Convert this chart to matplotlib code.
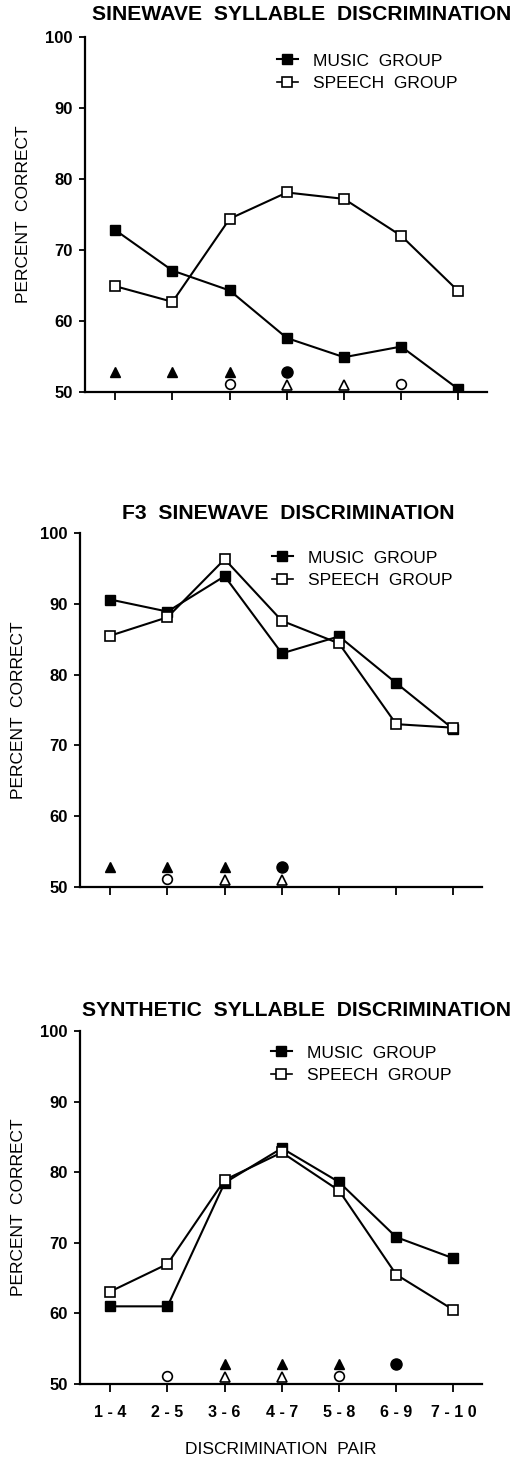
import matplotlib
matplotlib.use("Agg")
import matplotlib.pyplot as plt
from matplotlib.lines import Line2D

plt.rcParams['font.family'] = ['Liberation Sans', 'DejaVu Sans']

pairs = ["1 - 4", "2 - 5", "3 - 6", "4 - 7", "5 - 8", "6 - 9", "7 - 1 0"]
xpos = [1, 2, 3, 4, 5, 6, 7]

# Panel 1: sinewave syllable discrimination
sine_music = [72.8, 67.1, 64.3, 57.6, 54.9, 56.4, 50.4]
sine_speech = [64.9, 62.7, 74.4, 78.1, 77.2, 72.0, 64.2]
# Panel 2: F3 sinewave discrimination
f3_music = [90.6, 88.9, 93.9, 83.0, 85.4, 78.8, 72.3]
f3_speech = [85.5, 88.1, 96.3, 87.6, 84.4, 73.0, 72.5]
# Panel 3: synthetic syllable discrimination
syn_music = [61.0, 61.0, 78.5, 83.4, 78.6, 70.8, 67.8]
syn_speech = [63.1, 67.0, 78.9, 82.8, 77.4, 65.5, 60.5]

# significance symbols (pair positions)
sine_filled_tri = [1, 2, 3]
sine_filled_circ = [4]
sine_open_circ = [3, 6]
sine_open_tri = [4, 5]

f3_filled_tri = [1, 2, 3]
f3_filled_circ = [4]
f3_open_circ = [2]
f3_open_tri = [3, 4]

syn_filled_tri = [3, 4, 5]
syn_filled_circ = [6]
syn_open_circ = [2, 5]
syn_open_tri = [3, 4]

titles = ["SINEWAVE  SYLLABLE  DISCRIMINATION",
          "F3  SINEWAVE  DISCRIMINATION",
          "SYNTHETIC  SYLLABLE  DISCRIMINATION"]

W, H = 532, 1457
fig = plt.figure(figsize=(W / 100, H / 100), dpi=100)

# axes rects in pixels: left, right, top, bottom
rects = [(85, 487, 37, 392), (80, 482, 533, 887), (80, 482, 1031, 1384)]
title_y = [15, 513, 1010]
title_x = [302, 288, 296]
leg_anchor = [(287, 61), (282, 558), (281, 1053)]

panels = [
    (sine_music, sine_speech, sine_filled_tri, sine_filled_circ, sine_open_circ, sine_open_tri),
    (f3_music, f3_speech, f3_filled_tri, f3_filled_circ, f3_open_circ, f3_open_tri),
    (syn_music, syn_speech, syn_filled_tri, syn_filled_circ, syn_open_circ, syn_open_tri),
]

lw = 1.5
for i, (music, speech, ftri, fcirc, ocirc, otri) in enumerate(panels):
    l, r, t, b = rects[i]
    ax = fig.add_axes([l / W, 1 - b / H, (r - l) / W, (b - t) / H])
    ax.plot(xpos, music, color='black', lw=lw, marker='s', ms=7,
            mfc='black', mec='black', zorder=3)
    ax.plot(xpos, speech, color='black', lw=lw, marker='s', ms=7,
            mfc='white', mec='black', mew=1.2, zorder=4)
    ax.plot(ftri, [52.8] * len(ftri), ls='none', marker='^', ms=7,
            color='black', clip_on=False)
    ax.plot(fcirc, [52.8] * len(fcirc), ls='none', marker='o', ms=8,
            color='black', clip_on=False)
    ax.plot(ocirc, [51.1] * len(ocirc), ls='none', marker='o', ms=7,
            mfc='white', mec='black', mew=1.2, clip_on=False)
    ax.plot(otri, [50.95] * len(otri), ls='none', marker='^', ms=6.5,
            mfc='white', mec='black', mew=1.2, clip_on=False)

    ax.set_xlim(0.47, 7.5)
    ax.set_ylim(50, 100)
    ax.set_yticks([50, 60, 70, 80, 90, 100])
    ax.set_xticks(xpos)
    for s in ['top', 'right']:
        ax.spines[s].set_visible(False)
    for s in ['left', 'bottom']:
        ax.spines[s].set_linewidth(1.6)
    ax.tick_params(axis='y', direction='out', length=4, width=1.3,
                   labelsize=12, pad=5)
    ax.tick_params(axis='x', direction='out', length=6, width=1.3,
                   labelsize=11.5, pad=9)
    for lab in ax.get_yticklabels():
        lab.set_fontweight('bold')
    if i == 2:
        ax.set_xticklabels(pairs, fontweight='bold')
    else:
        ax.set_xticklabels([])
    ax.set_ylabel("PERCENT  CORRECT", fontsize=12.5, labelpad=10)

    fig.text(title_x[i] / W, 1 - title_y[i] / H, titles[i], ha='center',
             va='center', fontsize=15.2, fontweight='bold')

    handles = [
        Line2D([], [], color='black', lw=lw, marker='s', ms=6.5, mfc='black'),
        Line2D([], [], color='black', lw=1.2, marker='s', ms=6.5, mfc='white', mew=1.2),
    ]
    hx, hy = leg_anchor[i]
    fig.legend(handles, ["MUSIC  GROUP", "SPEECH  GROUP"], loc='center left',
               bbox_to_anchor=((hx - 10) / W, 1 - (hy + 11) / H),
               frameon=False, fontsize=12.5, handlelength=1.2,
               handletextpad=0.9, labelspacing=0.4, borderpad=0,
               borderaxespad=0)

fig.text(281 / W, 1 - 1449 / H, "DISCRIMINATION  PAIR", ha='center',
         va='center', fontsize=12.5)

fig.savefig("out.png", dpi=100)
